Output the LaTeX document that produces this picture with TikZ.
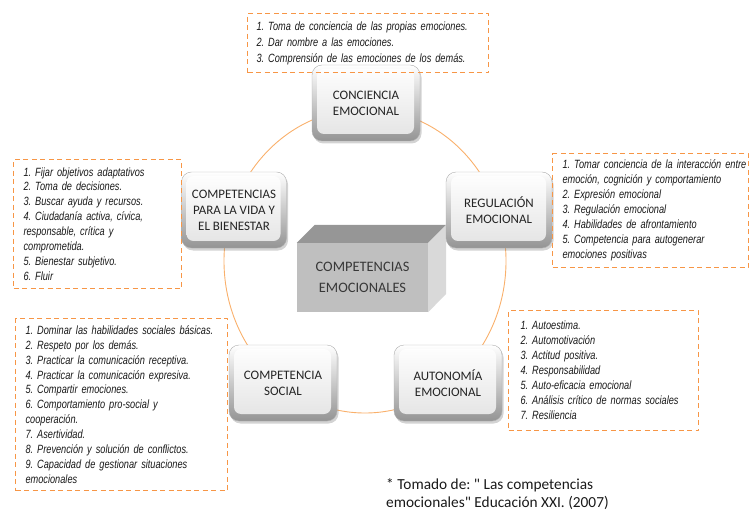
\documentclass[tikz,border=0pt]{standalone}
\usepackage{fontspec}
\setmainfont{Carlito}
\newfontfamily\listfont[FakeStretch=0.77]{Liberation Sans}
\newfontfamily\srcfont{Carlito}
\usetikzlibrary{shadows}

\begin{document}
\begin{tikzpicture}[x=1bp,y=-1bp,line join=bevel,
  cbox/.style={rectangle,rounded corners=10bp,minimum width=106bp,minimum height=76bp,
    draw=boxedge,top color=white,bottom color=boxdark,
    drop shadow={shadow xshift=1.5bp,shadow yshift=-2.5bp,opacity=0.35},
    path picture={\shade[top color=white,bottom color=boxlight,rounded corners=7bp]
      ([shift={(5bp,-4bp)}]path picture bounding box.north west) rectangle
      ([shift={(-6bp,7bp)}]path picture bounding box.south east);},
    align=center,text=boxtext,font=\fontsize{13}{16}\selectfont},
  lbox/.style={draw=dashcol,dash pattern=on 5bp off 3.5bp,line width=1.1bp,
    anchor=north west,align=left,inner xsep=9bp,inner ysep=4bp,
    text=listtext,font=\listfont\itshape\frenchspacing\fontsize{12}{15}\selectfont},
  core/.style={rectangle,fill=cubefront,minimum width=131bp,minimum height=69bp,
    inner sep=0pt,align=center,text=cubetext,font=\fontsize{14.5}{21}\selectfont}]
  \definecolor{dashcol}{rgb}{0.969,0.588,0.275}
  \definecolor{ringcol}{rgb}{0.976,0.690,0.420}
  \definecolor{boxedge}{rgb}{0.68,0.68,0.68}
  \definecolor{boxdark}{rgb}{0.58,0.58,0.58}
  \definecolor{boxlight}{rgb}{0.89,0.89,0.89}
  \definecolor{boxtext}{rgb}{0.14,0.14,0.14}
  \definecolor{listtext}{rgb}{0.10,0.10,0.10}
  \definecolor{cubefront}{rgb}{0.75,0.75,0.75}
  \definecolor{cubetop}{rgb}{0.59,0.59,0.59}
  \definecolor{cubeside}{rgb}{0.85,0.85,0.85}
  \definecolor{cubetext}{rgb}{0.22,0.22,0.22}
  \useasboundingbox (0,0) rectangle (749,515);
%%
  % Edge: ring
  \coordinate (mid) at (365,261);
  \draw[ringcol,line width=0.9bp] (mid) ellipse (141bp and 152bp);
%%
  % Node: core
\begin{scope}
  \node[core] (core) at (362.5,277.5) {COMPETENCIAS\\EMOCIONALES};
  \fill[cubetop] (core.north west) -- ++(18,-18) -- ([shift={(18bp,18bp)}]core.north east) -- (core.north east) -- cycle;
  \fill[cubeside] (core.north east) -- ++(18,-18) -- ++(0,69) -- (core.south east) -- cycle;
\end{scope}
  % Node: conc
  \node[cbox,minimum width=108bp] (conc) at (366,103) {CONCIENCIA\\EMOCIONAL};
  % Node: regu
  \node[cbox] (regu) at (499,210) {REGULACIÓN\\EMOCIONAL};
  % Node: auto
  \node[cbox,minimum width=108bp] (auto) at (448,383) {AUTONOMÍA\\EMOCIONAL};
  % Node: soci
  \node[cbox,minimum width=108bp] (soci) at (283,383) {COMPETENCIA\\SOCIAL};
  % Node: vida
  \node[cbox,minimum width=105bp] (vida) at (234,210) {COMPETENCIAS\\PARA LA VIDA Y\\EL BIENESTAR};
%%
  % Node: conclist
  \node[lbox,text width=223bp,minimum height=59bp,
    font=\listfont\itshape\frenchspacing\fontsize{12}{16}\selectfont] (conclist) at (247,13)
    {\mbox{1. Toma de conciencia de las propias emociones.}\\
     2. Dar nombre a las emociones.\\
     \mbox{3. Comprensión de las emociones de los demás.}};
  % Node: vidalist
  \node[lbox,inner xsep=10bp,text width=148bp,minimum height=129bp] (vidalist) at (13,159)
    {1. Fijar objetivos adaptativos\\
     2. Toma de decisiones.\\
     3. Buscar ayuda y recursos.\\
     \mbox{4. Ciudadanía activa, cívica,}\\
     responsable, crítica y\\
     comprometida.\\
     5. Bienestar subjetivo.\\
     6. Fluir};
  % Node: regulist
  \node[lbox,inner xsep=10bp,text width=176bp,minimum height=114bp] (regulist) at (552,153)
    {\mbox{1. Tomar conciencia de la interacción entre}\\
     \mbox{emoción, cognición y comportamiento}\\
     2. Expresión emocional\\
     3. Regulación emocional\\
     4. Habilidades de afrontamiento\\
     \mbox{5. Competencia para autogenerar}\\
     emociones positivas};
  % Node: socilist
  \node[lbox,inner xsep=10bp,text width=192bp,minimum height=172bp] (socilist) at (15,318)
    {\mbox{1. Dominar las habilidades sociales básicas.}\\
     2. Respeto por los demás.\\
     \mbox{3. Practicar la comunicación receptiva.}\\
     \mbox{4. Practicar la comunicación expresiva.}\\
     5. Compartir emociones.\\
     \mbox{6. Comportamiento pro-social y}\\
     cooperación.\\
     7. Asertividad.\\
     \mbox{8. Prevención y solución de conflictos.}\\
     \mbox{9. Capacidad de gestionar situaciones}\\
     emocionales};
  % Node: autolist
  \node[lbox,inner xsep=12bp,text width=166bp,minimum height=120bp] (autolist) at (508,310)
    {1. Autoestima.\\
     2. Automotivación\\
     3. Actitud positiva.\\
     4. Responsabilidad\\
     5. Auto-eficacia emocional\\
     \mbox{6. Análisis crítico de normas sociales}\\
     7. Resiliencia};
%%
  % Node: src
  \node[anchor=north west,align=left,inner sep=0pt,text=listtext,
    font=\srcfont\frenchspacing\fontsize{15.4}{18}\selectfont] (src) at (386,478)
    {* Tomado de: " Las competencias\\
     emocionales" Educación XXI. (2007)};
%
\end{tikzpicture}
\end{document}
